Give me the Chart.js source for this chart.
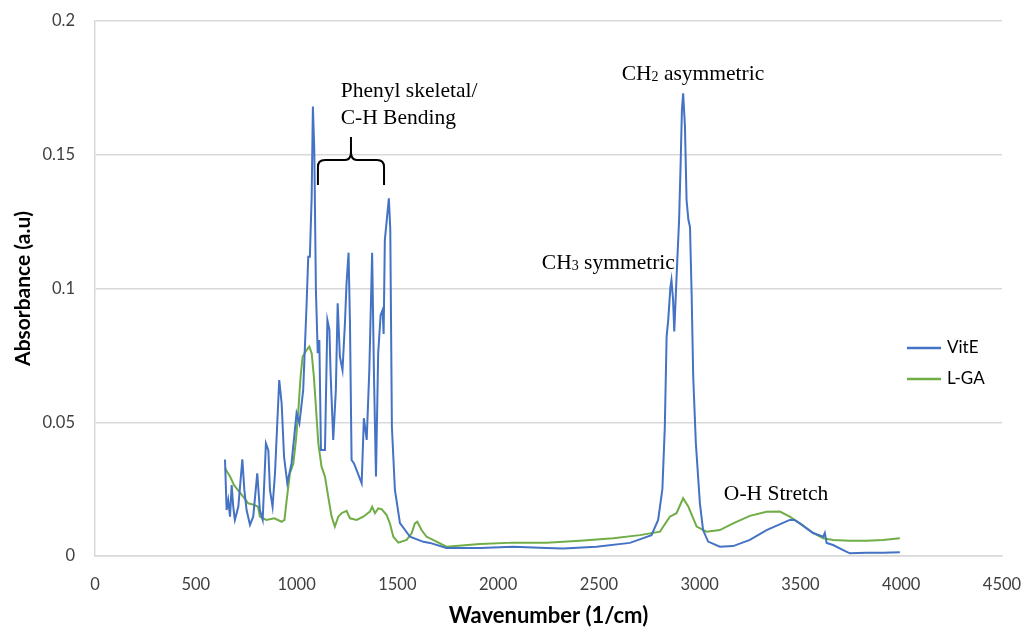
<!DOCTYPE html>
<html>
<head>
<meta charset="utf-8">
<script src="https://cdn.jsdelivr.net/npm/chart.js@4"></script>
<style>
  html, body { margin: 0; padding: 0; background: #fff; }
  #wrap { width: 1024px; height: 632px; position: relative; }
</style>
</head>
<body>
<div id="wrap"><canvas id="c" width="1024" height="632"></canvas></div>
<script>
// ---- Data ----
const vitE_wavenumber = [645,653,661,670,678,686,694,711,731,741,752,769,785,805,818,832,848,860,868,881,893,914,926,938,954,975,1000,1014,1033,1050,1058,1066,1075,1081,1088,1096,1105,1113,1121,1141,1153,1163,1169,1182,1195,1204,1215,1228,1240,1248,1258,1265,1273,1285,1298,1323,1334,1348,1361,1375,1384,1394,1405,1417,1427,1432,1438,1458,1465,1473,1488,1513,1563,1629,1662,1744,1910,2075,2240,2323,2488,2654,2720,2761,2794,2815,2827,2836,2844,2855,2860,2868,2874,2882,2889,2898,2906,2912,2918,2927,2935,2944,2952,2960,2968,2981,3001,3017,3042,3100,3166,3249,3332,3447,3470,3497,3563,3613,3621,3630,3662,3712,3745,3828,3910,3993];
const vitE_absorbance = [0.0361,0.0172,0.0209,0.0147,0.0265,0.0184,0.0135,0.0184,0.0361,0.0247,0.0172,0.0116,0.0147,0.0309,0.0172,0.0135,0.0421,0.0396,0.0247,0.0184,0.0309,0.0658,0.0571,0.0371,0.0272,0.0346,0.0533,0.0496,0.0621,0.0945,0.1119,0.1119,0.1343,0.168,0.1518,0.0994,0.0758,0.0807,0.0396,0.0396,0.0882,0.0845,0.068,0.0434,0.0621,0.0945,0.0745,0.0695,0.087,0.1019,0.1134,0.087,0.0359,0.0346,0.0321,0.0272,0.0515,0.0434,0.0695,0.1134,0.068,0.0297,0.0758,0.09,0.092,0.083,0.1181,0.1337,0.122,0.0483,0.0247,0.0123,0.0072,0.0053,0.0049,0.003,0.003,0.0035,0.003,0.0028,0.0035,0.0049,0.0067,0.0078,0.0135,0.025,0.048,0.082,0.0883,0.1007,0.1032,0.0958,0.0839,0.0983,0.1107,0.1257,0.148,0.1668,0.173,0.1605,0.133,0.1257,0.123,0.0983,0.067,0.0423,0.0198,0.0097,0.0054,0.0035,0.0037,0.006,0.0097,0.0135,0.0135,0.0122,0.0086,0.0072,0.0086,0.0049,0.0041,0.0022,0.001,0.0012,0.0012,0.0014];

const lga_wavenumber = [645,670,690,735,760,790,809,818,850,890,926,940,951,967,984,997,1009,1020,1030,1050,1063,1075,1086,1096,1108,1124,1141,1157,1174,1190,1207,1223,1248,1265,1298,1331,1364,1375,1389,1405,1422,1447,1463,1480,1505,1546,1571,1587,1599,1620,1645,1662,1744,1910,2075,2240,2406,2571,2703,2803,2852,2885,2918,2944,2985,3034,3100,3166,3249,3332,3398,3447,3497,3563,3613,3662,3745,3828,3910,3993];
const lga_absorbance = [0.0328,0.0297,0.0265,0.0222,0.0197,0.0191,0.0184,0.0147,0.0135,0.0141,0.0128,0.0135,0.0209,0.0309,0.0346,0.0434,0.0546,0.067,0.0745,0.077,0.0783,0.0758,0.067,0.0558,0.0421,0.0334,0.0297,0.0222,0.0147,0.011,0.0147,0.016,0.0169,0.0141,0.0135,0.0147,0.0166,0.0184,0.016,0.0178,0.0175,0.0153,0.0122,0.0072,0.005,0.006,0.0085,0.0122,0.0128,0.0097,0.0072,0.0066,0.0035,0.0045,0.005,0.005,0.0057,0.0066,0.0078,0.0091,0.0147,0.016,0.0216,0.0184,0.011,0.0091,0.0097,0.0122,0.015,0.0165,0.0166,0.0147,0.0122,0.0086,0.0066,0.006,0.0057,0.0057,0.006,0.0066];

const seriesNames = ['VitE', 'L-GA'];
const xTickMin = 0, xTickMax = 4500, xTickStep = 500;
const yTickMin = 0, yTickMax = 0.2, yTickStep = 0.05;
const xTitle = 'Wavenumber (1/cm)';
const yTitle = 'Absorbance (a.u)';

const COLORS = ['#4472C4', '#70AD47'];

function pts(xs, ys) { return xs.map((x, i) => ({ x: x, y: ys[i] })); }

// annotation plugin: labels, brace, legend
const annot = {
  id: 'annot',
  afterDraw(chart) {
    const ctx = chart.ctx, xs = chart.scales.x, ys = chart.scales.y;
    const X = v => xs.getPixelForValue(v), Y = v => ys.getPixelForValue(v);
    ctx.save();
    ctx.fillStyle = '#000';
    ctx.textBaseline = 'middle';
    ctx.textAlign = 'left';
    const serif = '"Liberation Serif", "Times New Roman", serif';
    const big = '21.5px ' + serif, small = '14px ' + serif;
    ctx.font = big;
    ctx.fillText('Phenyl skeletal/', X(1219), Y(0.1736));
    ctx.fillText('C-H Bending', X(1219), Y(0.1637));
    ctx.fillText('O-H Stretch', X(3120), Y(0.0232));
    function chem(x, y, sub, rest) {
      ctx.font = big;
      ctx.fillText('CH', x, y);
      let w = ctx.measureText('CH').width;
      ctx.font = small;
      ctx.fillText(sub, x + w, y + 3);
      w += ctx.measureText(sub).width;
      ctx.font = big;
      ctx.fillText(rest, x + w, y);
    }
    chem(X(2613), Y(0.1802), '2', ' asymmetric');
    chem(X(2217), Y(0.1095), '3', ' symmetric');

    // brace
    const l = X(1106), r = X(1434), c = X(1270);
    const yt = Y(0.1566), yh = Y(0.148), ye = Y(0.1387);
    ctx.strokeStyle = '#000';
    ctx.lineWidth = 2;
    ctx.beginPath();
    ctx.moveTo(l, ye);
    ctx.lineTo(l, yh + 7);
    ctx.quadraticCurveTo(l, yh, l + 7, yh);
    ctx.lineTo(c - 6, yh);
    ctx.quadraticCurveTo(c, yh, c, yh - 8);
    ctx.lineTo(c, yt);
    ctx.moveTo(c, yh - 8);
    ctx.quadraticCurveTo(c, yh, c + 6, yh);
    ctx.lineTo(r - 7, yh);
    ctx.quadraticCurveTo(r, yh, r, yh + 7);
    ctx.lineTo(r, ye);
    ctx.stroke();

    // legend
    const ca = chart.chartArea;
    const lx = ca.right - 95, ly = [348, 379];
    ctx.font = '17px Lato, "Liberation Sans", sans-serif';
    ctx.fillStyle = '#000';
    seriesNames.forEach((n, i) => {
      ctx.strokeStyle = COLORS[i];
      ctx.lineWidth = 2.5;
      ctx.beginPath();
      ctx.moveTo(lx, ly[i]);
      ctx.lineTo(lx + 34, ly[i]);
      ctx.stroke();
      ctx.fillText(n, lx + 40, ly[i]);
    });
    ctx.restore();
  }
};

new Chart(document.getElementById('c'), {
  type: 'line',
  data: {
    datasets: [
      { label: seriesNames[0], data: pts(vitE_wavenumber, vitE_absorbance), borderColor: COLORS[0], backgroundColor: COLORS[0], borderWidth: 2, pointRadius: 0, tension: 0, fill: false },
      { label: seriesNames[1], data: pts(lga_wavenumber, lga_absorbance), borderColor: COLORS[1], backgroundColor: COLORS[1], borderWidth: 2, pointRadius: 0, tension: 0, fill: false }
    ]
  },
  options: {
    responsive: false,
    animation: false,
    devicePixelRatio: 1,
    layout: { padding: { left: 0, right: 22, top: 21, bottom: 0 } },
    plugins: { legend: { display: false }, tooltip: { enabled: false } },
    scales: {
      x: {
        type: 'linear', min: xTickMin, max: xTickMax,
        ticks: { stepSize: xTickStep, padding: 19, color: '#404040', font: { family: 'Lato', size: 16.5 }, maxRotation: 0,
                 callback: v => String(v) },
        grid: { display: false, drawTicks: false },
        border: { display: true, color: '#d9d9d9', width: 1.5 },
        title: { display: true, text: xTitle, color: '#000', font: { family: 'Lato', size: 22, weight: 'bold' }, padding: { top: 0, bottom: 3 } },
        afterFit(s) { s.height = 76; s.paddingLeft = 0; s.paddingRight = 0; }
      },
      y: {
        type: 'linear', min: yTickMin, max: yTickMax,
        ticks: { stepSize: yTickStep, padding: 20, color: '#404040', font: { family: 'Lato', size: 16.5 },
                 callback: v => String(Math.round(v * 100) / 100) },
        grid: { display: true, color: '#d9d9d9', lineWidth: 1.5, drawTicks: false },
        border: { display: true, color: '#d9d9d9', width: 1.5 },
        title: { display: true, text: yTitle, color: '#000', font: { family: 'Lato', size: 21, weight: 'bold' }, padding: { top: 11, bottom: 0 } },
        afterFit(s) { s.width = 95; s.paddingTop = 0; s.paddingBottom = 0; }
      }
    }
  },
  plugins: [annot]
});
</script>
</body>
</html>
